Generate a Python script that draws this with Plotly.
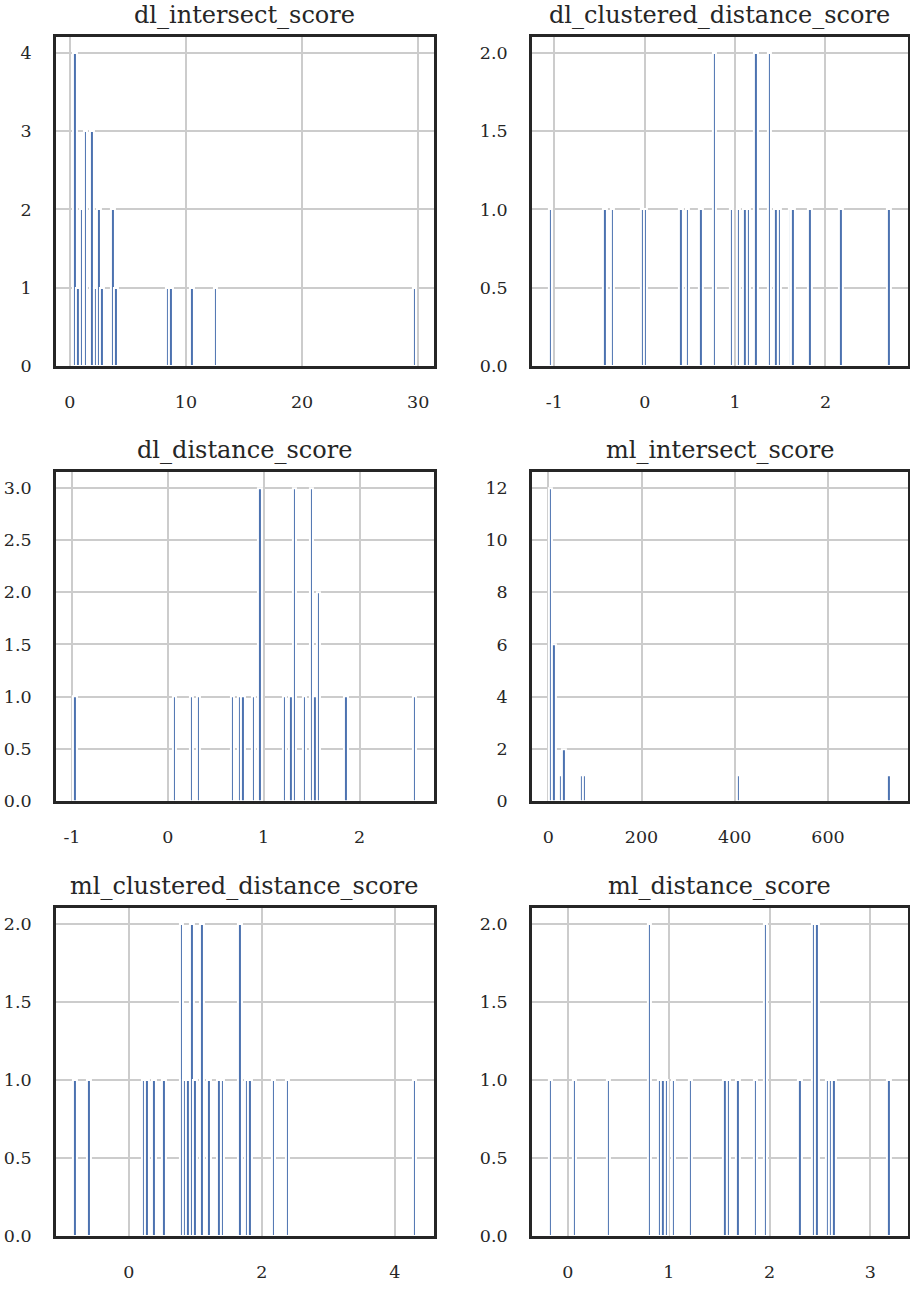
import plotly.graph_objects as go

# ---------------- data (bin centres and counts) ----------------
titles = ["dl_intersect_score", "dl_clustered_distance_score", "dl_distance_score",
          "ml_intersect_score", "ml_clustered_distance_score", "ml_distance_score"]

dl_intersect_x = [0.43, 0.71, 1.01, 1.35, 1.92, 2.21, 2.50, 2.78, 3.70, 3.98,
                  8.41, 8.69, 10.50, 12.56, 29.69]
dl_intersect_n = [4, 1, 2, 3, 3, 1, 2, 1, 2, 1, 1, 1, 1, 1, 1]

dl_clustered_x = [-1.04, -0.44, -0.36, -0.02, 0.01, 0.40, 0.47, 0.62, 0.77, 0.96, 1.04,
                  1.11, 1.15, 1.23, 1.38, 1.45, 1.49, 1.61, 1.64, 1.83, 2.17, 2.70]
dl_clustered_n = [1, 1, 1, 1, 1, 1, 1, 1, 2, 1, 1, 1, 1, 2, 2, 1, 1, 1, 1, 1, 1, 1]

dl_distance_x = [-0.97, 0.067, 0.247, 0.317, 0.675, 0.748, 0.783, 0.891, 0.960, 1.215,
                 1.284, 1.323, 1.427, 1.500, 1.535, 1.573, 1.858, 2.575]
dl_distance_n = [1, 1, 1, 1, 1, 1, 1, 1, 3, 1, 1, 3, 1, 3, 1, 2, 1, 1]

ml_intersect_x = [5.1, 12.2, 26.5, 33.5, 70.5, 77.7, 407.9, 730.3]
ml_intersect_n = [12, 6, 1, 2, 1, 1, 1, 1]

ml_clustered_x = [-0.812, -0.602, 0.221, 0.271, 0.376, 0.531, 0.792, 0.837, 0.887, 0.947,
                  0.997, 1.103, 1.203, 1.358, 1.409, 1.669, 1.769, 1.824, 2.180, 2.386, 4.30]
ml_clustered_n = [1, 1, 1, 1, 1, 1, 2, 1, 1, 2, 1, 2, 1, 1, 1, 2, 1, 1, 1, 1, 1]

ml_distance_x = [-0.171, 0.066, 0.401, 0.809, 0.912, 0.944, 0.977, 1.046, 1.217, 1.557,
                 1.589, 1.688, 1.859, 1.961, 2.300, 2.438, 2.471, 2.573, 2.606, 2.639, 3.182]
ml_distance_n = [1, 1, 1, 2, 1, 1, 1, 1, 1, 1, 1, 1, 1, 2, 1, 2, 2, 1, 1, 1, 1]

x_tick_labels = [["0", "10", "20", "30"],
                 ["-1", "0", "1", "2"],
                 ["-1", "0", "1", "2"],
                 ["0", "200", "400", "600"],
                 ["0", "2", "4"],
                 ["0", "1", "2", "3"]]
y_tick_labels = [["0", "1", "2", "3", "4"],
                 ["0.0", "0.5", "1.0", "1.5", "2.0"],
                 ["0.0", "0.5", "1.0", "1.5", "2.0", "2.5", "3.0"],
                 ["0", "2", "4", "6", "8", "10", "12"],
                 ["0.0", "0.5", "1.0", "1.5", "2.0"],
                 ["0.0", "0.5", "1.0", "1.5", "2.0"]]

series = [(dl_intersect_x, dl_intersect_n), (dl_clustered_x, dl_clustered_n),
          (dl_distance_x, dl_distance_n), (ml_intersect_x, ml_intersect_n),
          (ml_clustered_x, ml_clustered_n), (ml_distance_x, ml_distance_n)]

# ---------------- layout ----------------
W, H = 910, 1289
col_dom = [[56 / W, 434 / W], [532.5 / W, 908.5 / W]]
row_px = [(37.3, 369.0), (476.0, 807.3), (915.0, 1245.7)]
row_dom = [[1 - b / H, 1 - t / H] for t, b in row_px]

FONT = "DejaVu Serif"
TXT = "#262626"
BAR = "#4C72B0"

fig = go.Figure()
layout = dict(width=W, height=H, margin=dict(l=0, r=0, t=0, b=0),
              paper_bgcolor="white", plot_bgcolor="white", showlegend=False,
              bargap=0, font=dict(family=FONT, size=17.5, color=TXT))
annotations = []

for i, ((xs, ns), title) in enumerate(zip(series, titles)):
    r, c = divmod(i, 2)
    k = i + 1
    xa = "x" if k == 1 else f"x{k}"
    ya = "y" if k == 1 else f"y{k}"
    nbins = 100
    w = (max(xs) - min(xs)) / (nbins - 1)
    lo, hi = min(xs) - w / 2, max(xs) + w / 2
    span = hi - lo
    xr = [lo - 0.05 * span, hi + 0.05 * span]
    yr = [0, max(ns) * 1.05]

    fig.add_trace(go.Bar(x=xs, y=ns, width=[w] * len(xs), xaxis=xa, yaxis=ya,
                         marker=dict(color=BAR, line=dict(color="white", width=2))))

    xt = x_tick_labels[i]
    yt = y_tick_labels[i]
    common = dict(showline=True, mirror=True, linecolor=TXT, linewidth=2.5,
                  showgrid=True, gridcolor="#cccccc", gridwidth=1.6,
                  zeroline=False, ticks="", tickfont=dict(family=FONT, size=17.5, color=TXT))
    layout["xaxis" if k == 1 else f"xaxis{k}"] = dict(
        domain=col_dom[c], anchor=ya, range=xr,
        tickvals=[float(t) for t in xt], ticktext=xt, ticklabelstandoff=18, **common)
    layout["yaxis" if k == 1 else f"yaxis{k}"] = dict(
        domain=row_dom[r], anchor=xa, range=yr,
        tickvals=[float(t) for t in yt], ticktext=yt, ticklabelstandoff=18, **common)

    annotations.append(dict(text=title, xref="paper", yref="paper",
                            x=(col_dom[c][0] + col_dom[c][1]) / 2, y=row_dom[r][1],
                            xanchor="center", yanchor="bottom", yshift=6, showarrow=False,
                            font=dict(family=FONT, size=24, color=TXT)))

layout["annotations"] = annotations
fig.update_layout(**layout)
fig.write_html("out.html")
